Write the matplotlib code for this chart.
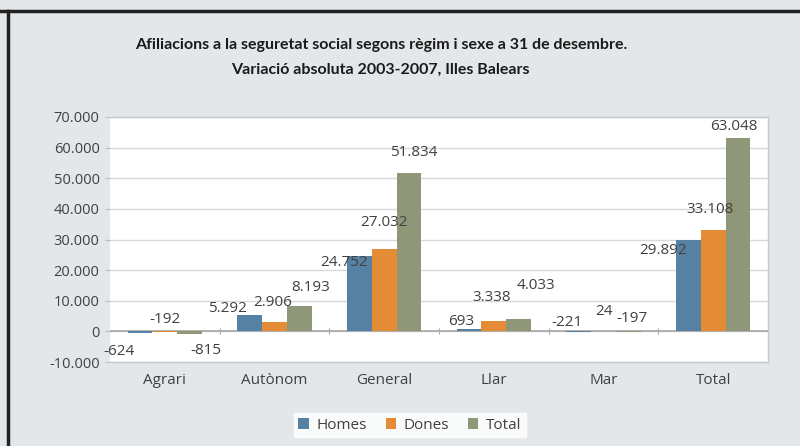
import matplotlib
matplotlib.use("Agg")
from matplotlib import pyplot as plt
from matplotlib.lines import Line2D
import numpy as np

# variacio absoluta 2003-2007
categories = ["Agrari", "Autònom", "General", "Llar", "Mar", "Total"]
homes = [-624, 5292, 24752, 693, -221, 29892]
dones = [-192, 2906, 27032, 3338, 24, 33108]
total = [-815, 8193, 51834, 4033, -197, 63048]

series_names = ["Homes", "Dones", "Total"]
colors = ["#5781a3", "#e48b35", "#8e9777"]

# label offsets in pixels (dx, dy), moved by hand in the original
offsets = [
    [(-21, -18), (-22, 7), (-15, -7), (-8, 8), (-12, 10), (-25, -11)],
    [(0, 12), (-2, 20), (0, 26), (-2, 24), (0, 20), (-3, 20)],
    [(16, -17), (11, 19), (5, 20), (17, 34), (4, 13), (-4, 12)],
]


def fmt(v):
    return f"{v:,}".replace(",", ".")


plt.rcParams['font.family'] = ['Open Sans', 'DejaVu Sans']

fig = plt.figure(figsize=(8, 4.46), dpi=100, facecolor="#e4e7ea")
ax = fig.add_axes([0.1375, 0.1883, 0.8225, 0.5494])
ax.set_facecolor("white")

x = np.arange(len(categories))
w = 0.225
data = [homes, dones, total]
for i, vals in enumerate(data):
    xs = x + (i - 1) * w
    ax.bar(xs, vals, w, color=colors[i], label=series_names[i], zorder=3)
    for j, v in enumerate(vals):
        ax.annotate(fmt(v), (xs[j], v), xytext=offsets[i][j],
                    textcoords="offset pixels", ha="center", va="center",
                    fontsize=11, color="#404040", zorder=4)

ax.set_xlim(-0.5, len(categories) - 0.5)
ax.set_ylim(-10000, 70000)
yt = np.arange(-10000, 70001, 10000)
ax.set_yticks(yt)
ax.set_yticklabels([fmt(int(t)) for t in yt])
ax.grid(axis="y", color="#d9d9d9", linewidth=1, zorder=0)
ax.axhline(0, color="#a6a6a6", linewidth=1.2, zorder=2)

ax.set_xticks(x)
ax.set_xticklabels(categories, fontsize=11, color="#404040")
ax.tick_params(axis="x", length=0, pad=8)
ax.tick_params(axis="y", length=3.5, color="#bfbfbf", labelsize=10.5,
               labelcolor="#404040", pad=4)

for s in ax.spines.values():
    s.set_color("#c8c8c8")
    s.set_linewidth(1)
ax.spines["left"].set_visible(False)

# tick marks between categories on the zero line
sec = ax.secondary_xaxis(0.125)
sec.set_xticks(np.arange(0.5, len(categories) - 1, 1.0))
sec.tick_params(direction="inout", length=5, color="#a6a6a6", labelbottom=False)
sec.spines["bottom"].set_visible(False)

fig.text(0.476, 0.899, "Afiliacions a la seguretat social segons règim i sexe a 31 de desembre.",
         ha="center", va="center", fontsize=11.5, fontweight="bold",
         family=["Lato", "DejaVu Sans"], color="#1a1a1a")
fig.text(0.476, 0.843, "Variació absoluta 2003-2007, Illes Balears",
         ha="center", va="center", fontsize=11.5, fontweight="bold",
         family=["Lato", "DejaVu Sans"], color="#1a1a1a")

leg = fig.legend(loc="center", bbox_to_anchor=(0.5125, 0.047), ncol=3,
                 frameon=True, fancybox=False, fontsize=11, handlelength=0.7,
                 handleheight=0.7, handletextpad=0.5, columnspacing=1.2,
                 borderpad=0.3)
leg.get_frame().set_facecolor("white")
leg.get_frame().set_edgecolor("white")
for t in leg.get_texts():
    t.set_color("#404040")

# border of the picture
fig.add_artist(Line2D([0, 1], [0.976, 0.976], color="#222222", linewidth=2.5,
                      transform=fig.transFigure))
fig.add_artist(Line2D([0.0095, 0.0095], [0, 0.976], color="#222222", linewidth=2.5,
                      transform=fig.transFigure))

fig.savefig("out.png", dpi=100, facecolor=fig.get_facecolor())
